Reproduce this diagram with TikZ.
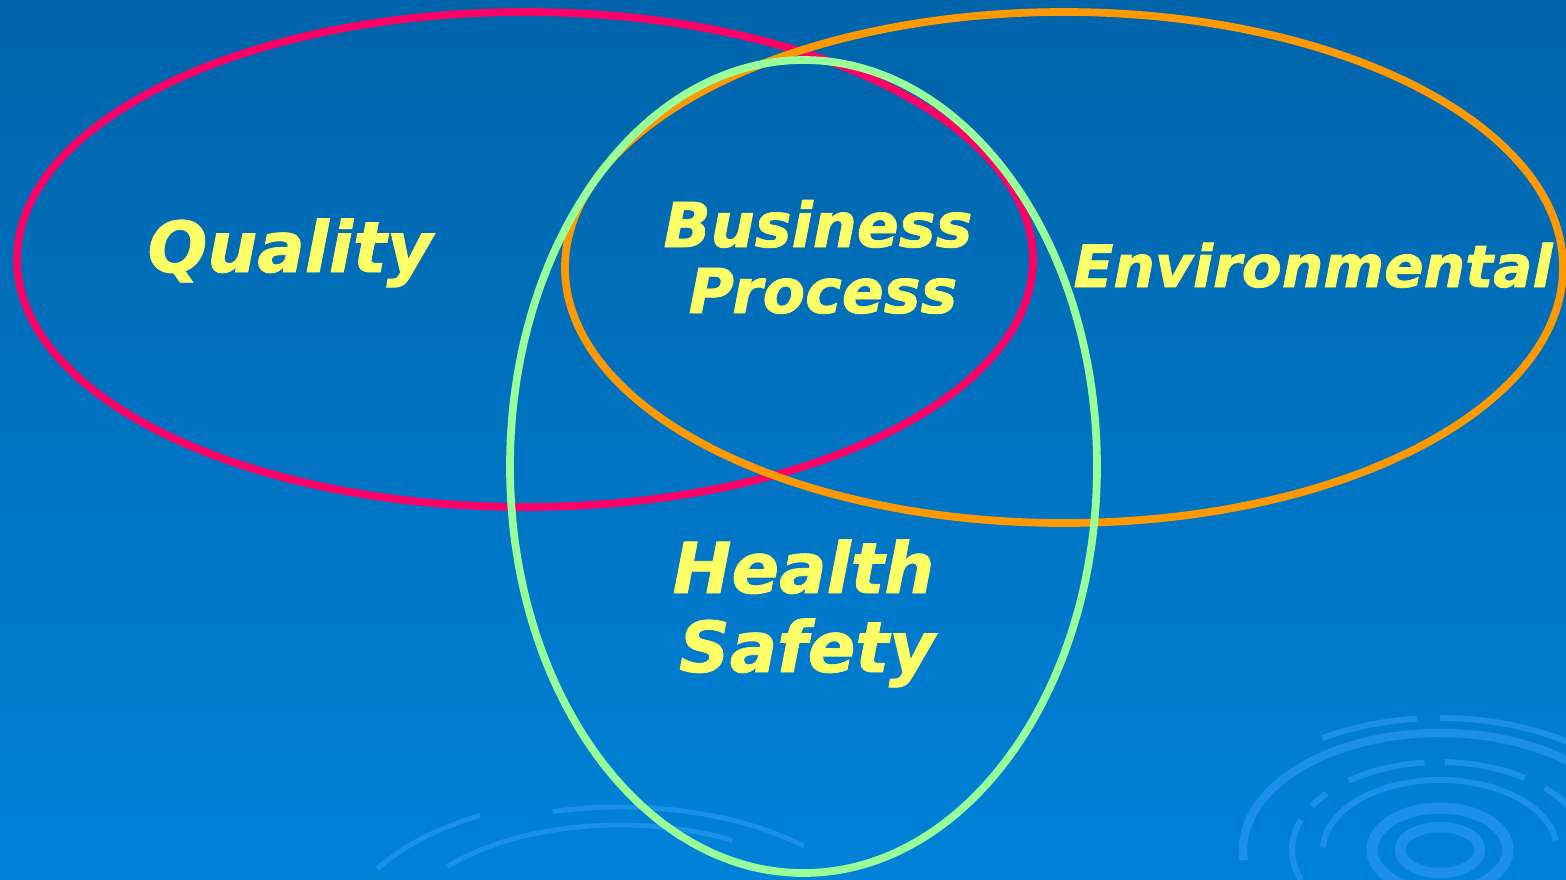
\documentclass[tikz,border=0pt]{standalone}
\usepackage{fontspec}
\newfontfamily\vennfont{DejaVu Sans}[BoldItalicFeatures={FakeBold=1.2}]
\definecolor{bgtop}{HTML}{0064AA}
\definecolor{bgbot}{HTML}{0082D8}
\definecolor{qualred}{HTML}{FF0066}
\definecolor{envorange}{HTML}{FF9900}
\definecolor{hsgreen}{HTML}{99FF99}
\definecolor{lblyellow}{HTML}{FFFF66}
\definecolor{swirlblue}{HTML}{1C8FE8}
\tikzset{
  ring/.style={line width=2.2pt},
  swirl/.style={draw=swirlblue, line width=1.7pt},
  vtext/.style={text=lblyellow, inner sep=0pt, anchor=base,
    font=\vennfont\bfseries\itshape\fontsize{#1}{#1}\selectfont}
}
\begin{document}
\begin{tikzpicture}
  \useasboundingbox (0,0) rectangle (15.66,8.79);
  \shade[top color=bgtop, bottom color=bgbot] (0,0) rectangle (15.66,8.79);

  % swirls in the corner
  \begin{scope}
    \clip (0,0) rectangle (15.66,8.79);
    \coordinate (swr) at (14.40,0.29);
    \coordinate (swc) at (6.20,-0.62);
    \draw[swirl, line width=3.2pt] (swr) ellipse [x radius=0.68, y radius=0.42];
    \draw[swirl, line width=3pt] (swr) ellipse [x radius=0.40, y radius=0.23];
    \foreach \rx/\ry/\a/\b in {1.17/0.70/8/178, 1.48/0.88/96/128, 1.48/0.88/55/88,
        1.48/0.88/20/45, 1.48/0.88/140/150, 1.48/0.88/160/200,
        2.22/1.32/96/122, 2.22/1.32/20/90}
      \draw[swirl] ([shift={(\a:\rx cm and \ry cm)}]swr)
        arc [start angle=\a, end angle=\b, x radius=\rx, y radius=\ry];
    \draw[swirl, line width=2.4pt] ([shift={(0:1.97cm and 1.17cm)}]swr)
      arc [start angle=0, end angle=185, x radius=1.97, y radius=1.17];
    \foreach \rx/\ry/\a/\b in {2.60/1.34/45/105, 2.25/1.16/60/140, 2.80/1.45/120/150}
      \draw[swirl, line width=1.4pt] ([shift={(\a:\rx cm and \ry cm)}]swc)
        arc [start angle=\a, end angle=\b, x radius=\rx, y radius=\ry];
  \end{scope}

  % the three sets
  \draw[ring, qualred] (5.25,6.195) ellipse [x radius=5.08, y radius=2.475];
  \draw[ring, envorange] (10.64,6.115) ellipse [x radius=4.99, y radius=2.555];
  \draw[ring, hsgreen] (8.035,4.125) ellipse [x radius=2.935, y radius=4.065];

  \node (qual) [vtext=20] at (2.90,6.07) {Quality};
  \node (envi) [vtext=16.6] at (13.13,5.92) {Environmental};
  \node (busi) [vtext=17.6] at (8.18,6.32) {Business};
  \node (proc) [vtext=17.6] at (8.23,5.66) {Process};
  \node (heal) [vtext=20] at (8.035,2.86) {Health};
  \node (safe) [vtext=20] at (8.07,2.07) {Safety};
\end{tikzpicture}
\end{document}
